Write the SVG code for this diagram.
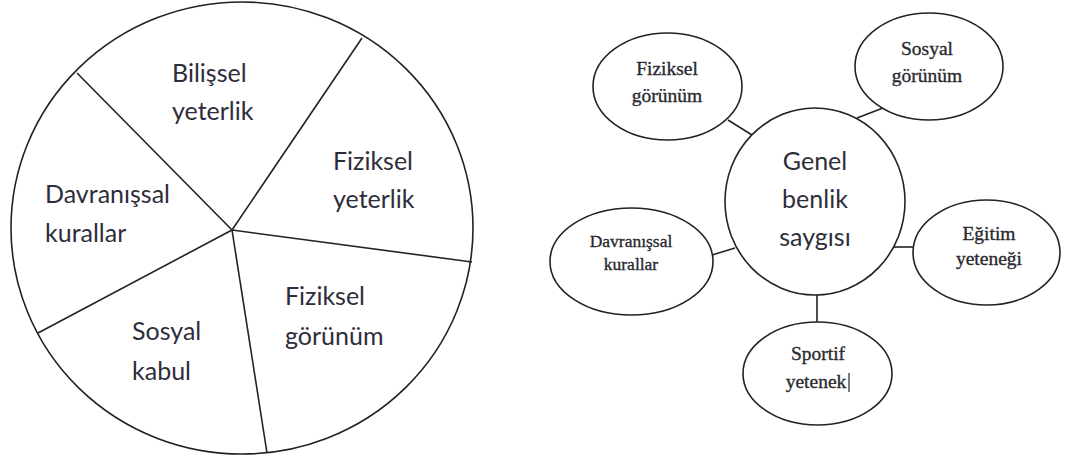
<svg xmlns="http://www.w3.org/2000/svg" width="1073" height="462" viewBox="0 0 1073 462">
<style>
.ln{fill:none;stroke:#222;stroke-width:1.6}
.nd{fill:#fff;stroke:#222;stroke-width:1.6}
.sa{font-family:Lato,"Open Sans",sans-serif;font-size:25px;fill:#2e2e3a}
.sc{font-family:Lato,"Open Sans",sans-serif;font-size:25px;fill:#2e2e3a;text-anchor:middle}
.sr{font-family:"Liberation Serif",serif;font-size:19.5px;fill:#2a2a30;text-anchor:middle;stroke:#2a2a30;stroke-width:0.35}
.ss{font-size:17.5px}
</style>
<rect width="1073" height="462" fill="#fff"/>
<g id="pie">
<ellipse class="ln" cx="242" cy="228" rx="231" ry="226"/>
<line class="ln" x1="232" y1="230" x2="77" y2="73"/>
<line class="ln" x1="232" y1="230" x2="362" y2="38"/>
<line class="ln" x1="232" y1="230" x2="472" y2="262"/>
<line class="ln" x1="232" y1="230" x2="267" y2="453"/>
<line class="ln" x1="232" y1="230" x2="38" y2="333"/>
<text class="sa" x="172" y="82">Bilişsel</text>
<text class="sa" x="172" y="120">yeterlik</text>
<text class="sa" x="333" y="170">Fiziksel</text>
<text class="sa" x="333" y="208">yeterlik</text>
<text class="sa" x="45" y="203">Davranışsal</text>
<text class="sa" x="45" y="242">kurallar</text>
<text class="sa" x="285" y="305">Fiziksel</text>
<text class="sa" x="285" y="345">görünüm</text>
<text class="sa" x="132" y="340">Sosyal</text>
<text class="sa" x="132" y="380">kabul</text>
</g>
<g id="connectors">
<line class="ln" x1="728" y1="120" x2="752" y2="135"/>
<line class="ln" x1="857" y1="118" x2="883" y2="108"/>
<line class="ln" x1="712" y1="255" x2="735" y2="248"/>
<line class="ln" x1="893" y1="247" x2="913" y2="247"/>
<line class="ln" x1="817" y1="295" x2="817" y2="322"/>
</g>
<g id="genel">
<ellipse class="nd" cx="815" cy="201.5" rx="90" ry="93.5"/>
<text class="sc" x="815" y="170">Genel</text>
<text class="sc" x="815" y="208">benlik</text>
<text class="sc" x="815" y="246">saygısı</text>
</g>
<g id="fiziksel">
<ellipse class="nd" cx="667.5" cy="86.5" rx="74.5" ry="53.5"/>
<text class="sr" x="667" y="75">Fiziksel</text>
<text class="sr" x="667" y="102">görünüm</text>
</g>
<g id="sosyal">
<ellipse class="nd" cx="929" cy="66.5" rx="74" ry="53.5"/>
<text class="sr" x="927" y="55">Sosyal</text>
<text class="sr" x="927" y="82">görünüm</text>
</g>
<g id="davranissal">
<ellipse class="nd" cx="631.5" cy="261.5" rx="81.5" ry="53.5"/>
<text class="sr ss" x="631" y="247">Davranışsal</text>
<text class="sr ss" x="631" y="270">kurallar</text>
</g>
<g id="egitim">
<ellipse class="nd" cx="986.5" cy="252.5" rx="73.5" ry="52.5"/>
<text class="sr" x="989" y="240">Eğitim</text>
<text class="sr" x="989" y="265">yeteneği</text>
</g>
<g id="sportif">
<ellipse class="nd" cx="817.5" cy="373.5" rx="74.5" ry="51.5"/>
<text class="sr" x="818" y="360">Sportif</text>
<text class="sr" x="816" y="388">yetenek</text>
<line x1="849" y1="373" x2="849" y2="392" stroke="#222" stroke-width="1.2"/>
</g>
</svg>
